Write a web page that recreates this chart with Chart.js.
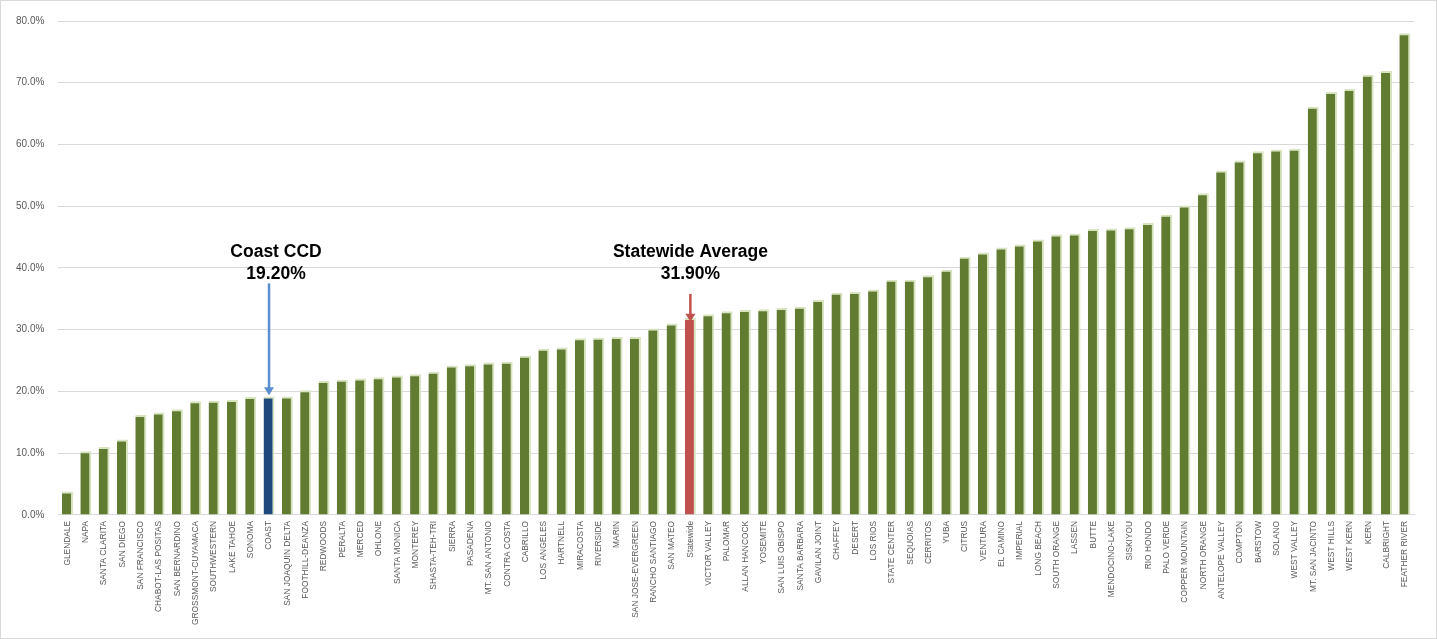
<!DOCTYPE html>
<html>
<head>
<meta charset="utf-8">
<script src="https://cdn.jsdelivr.net/npm/chart.js@4"></script>
<style>
    html, body { margin: 0; padding: 0; background: #fff; }
    #wrap { position: relative; width: 1435px; height: 637px; border: 1px solid #d9d9d9; }
</style>
</head>
<body>
<div id="wrap"><canvas id="myChart"></canvas></div>
<script>
// Districts, sorted by rate
const districts = [
    'GLENDALE', 'NAPA', 'SANTA CLARITA', 'SAN DIEGO', 'SAN FRANCISCO', 'CHABOT-LAS POSITAS',
    'SAN BERNARDINO', 'GROSSMONT-CUYAMACA', 'SOUTHWESTERN', 'LAKE TAHOE', 'SONOMA', 'COAST',
    'SAN JOAQUIN DELTA', 'FOOTHILL-DEANZA', 'REDWOODS', 'PERALTA', 'MERCED', 'OHLONE',
    'SANTA MONICA', 'MONTEREY', 'SHASTA-TEH-TRI', 'SIERRA', 'PASADENA', 'MT. SAN ANTONIO',
    'CONTRA COSTA', 'CABRILLO', 'LOS ANGELES', 'HARTNELL', 'MIRACOSTA', 'RIVERSIDE', 'MARIN',
    'SAN JOSE-EVERGREEN', 'RANCHO SANTIAGO', 'SAN MATEO', 'Statewide', 'VICTOR VALLEY',
    'PALOMAR', 'ALLAN HANCOCK', 'YOSEMITE', 'SAN LUIS OBISPO', 'SANTA BARBARA', 'GAVILAN JOINT',
    'CHAFFEY', 'DESERT', 'LOS RIOS', 'STATE CENTER', 'SEQUOIAS', 'CERRITOS', 'YUBA', 'CITRUS',
    'VENTURA', 'EL CAMINO', 'IMPERIAL', 'LONG BEACH', 'SOUTH ORANGE', 'LASSEN', 'BUTTE',
    'MENDOCINO-LAKE', 'SISKIYOU', 'RIO HONDO', 'PALO VERDE', 'COPPER MOUNTAIN', 'NORTH ORANGE',
    'ANTELOPE VALLEY', 'COMPTON', 'BARSTOW', 'SOLANO', 'WEST VALLEY', 'MT. SAN JACINTO',
    'WEST HILLS', 'WEST KERN', 'KERN', 'CALBRIGHT', 'FEATHER RIVER'
];
const rates = [
    3.8, 10.3, 11.0, 12.2, 16.2, 16.6,
    17.1, 18.4, 18.5, 18.6, 19.1, 19.2,
    19.2, 20.2, 21.7, 21.9, 22.1, 22.3,
    22.6, 22.8, 23.2, 24.2, 24.4, 24.7,
    24.8, 25.8, 26.9, 27.1, 28.6, 28.7, 28.8,
    28.8, 30.2, 31.0, 31.9, 32.5,
    33.0, 33.2, 33.3, 33.5, 33.7, 34.8,
    36.0, 36.1, 36.5, 38.1, 38.1, 38.8, 39.7, 41.8,
    42.5, 43.3, 43.8, 44.6, 45.4, 45.6, 46.3,
    46.4, 46.6, 47.3, 48.6, 50.1, 52.1,
    55.8, 57.4, 58.9, 59.2, 59.3, 66.1,
    68.5, 69.0, 71.3, 71.9, 78.0
];
const yTicks = [0, 10, 20, 30, 40, 50, 60, 70, 80];

// Callouts pointing at a bar
const callouts = [
    { title: 'Coast CCD', value: '19.20%', at: 'COAST', textAt: 42.6, arrowFrom: 37.5, arrowTo: 19.4, color: '#5B8ED0', dx: 7 },
    { title: 'Statewide Average', value: '31.90%', at: 'Statewide', textAt: 42.6, arrowFrom: 35.8, arrowTo: 31.3, color: '#C0504D', dx: 0 }
];

const barColors = districts.map(d => d === 'COAST' ? '#1F497D' : d === 'Statewide' ? '#C0504D' : '#617B30');

const calloutPlugin = {
    id: 'callouts',
    afterDatasetsDraw(chart) {
        const { ctx, scales: { x, y } } = chart;
        ctx.save();
        callouts.forEach(c => {
            const px = x.getPixelForValue(districts.indexOf(c.at));
            const ty = y.getPixelForValue(c.textAt);
            ctx.fillStyle = '#000';
            ctx.font = 'bold 17.5px "Liberation Sans", Arial, sans-serif';
            ctx.textAlign = 'center';
            ctx.textBaseline = 'middle';
            ctx.fillText(c.title, px + c.dx, ty);
            ctx.fillText(c.value, px + c.dx, ty + 22);

            const y0 = y.getPixelForValue(c.arrowFrom);
            const y1 = y.getPixelForValue(c.arrowTo);
            ctx.strokeStyle = c.color;
            ctx.fillStyle = c.color;
            ctx.lineWidth = 2.5;
            ctx.beginPath();
            ctx.moveTo(px, y0);
            ctx.lineTo(px, y1 - 7);
            ctx.stroke();
            ctx.beginPath();
            ctx.moveTo(px - 5, y1 - 8);
            ctx.lineTo(px + 5, y1 - 8);
            ctx.lineTo(px, y1);
            ctx.closePath();
            ctx.fill();
        });
        ctx.restore();
    }
};

const config = {
    type: 'bar',
    data: {
        labels: districts,
        datasets: [{
            data: rates,
            backgroundColor: barColors,
            borderColor: '#D7E4BD',
            borderWidth: { left: 0, right: 2, top: 2, bottom: 0 },
            categoryPercentage: 1.0,
            barPercentage: 0.6
        }]
    },
    options: {
        responsive: true,
        maintainAspectRatio: false,
        animation: false,
        layout: { padding: { left: 1, right: 22, top: 2, bottom: 7 } },
        plugins: {
            legend: { display: false },
            tooltip: { enabled: false }
        },
        scales: {
            x: {
                grid: { display: false, drawTicks: false },
                border: { color: '#d9d9d9' },
                ticks: {
                    autoSkip: false,
                    maxRotation: 90,
                    minRotation: 90,
                    padding: 6,
                    color: '#595959',
                    font: { family: '"Liberation Sans", Arial, sans-serif', size: 8.4 }
                }
            },
            y: {
                min: 0,
                max: 80,
                afterBuildTicks: axis => { axis.ticks = yTicks.map(v => ({ value: v })); },
                grid: { color: '#d9d9d9', drawTicks: false },
                border: { display: false },
                ticks: {
                    padding: 14,
                    color: '#595959',
                    font: { family: '"Liberation Sans", Arial, sans-serif', size: 10 },
                    callback: v => v.toFixed(1) + '%'
                }
            }
        }
    },
    plugins: [calloutPlugin]
};

const ctx = document.getElementById('myChart').getContext('2d');
const currentChart = new Chart(ctx, config);
</script>
</body>
</html>
